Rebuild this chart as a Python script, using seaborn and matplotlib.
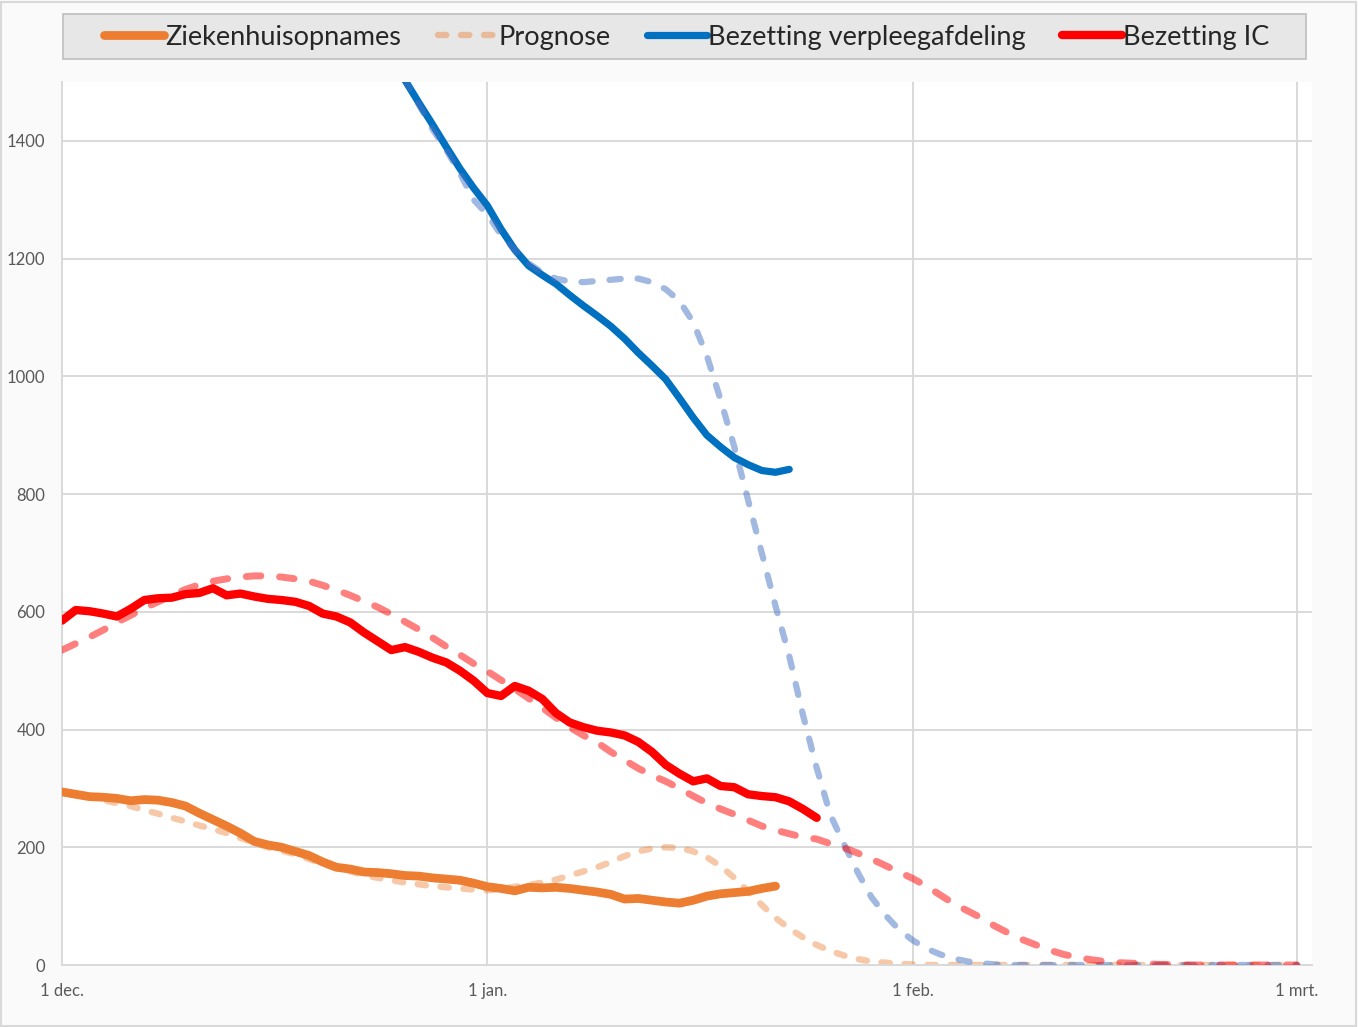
import numpy as np
import pandas as pd
import matplotlib
matplotlib.use("Agg")
import matplotlib.pyplot as plt
from matplotlib.patches import Rectangle
import seaborn as sns

# ---------------- data (day 0 = 1 dec.) ----------------
tick_days = [0, 31, 62, 90]
tick_labels = ["1 dec.", "1 jan.", "1 feb.", "1 mrt."]
y_ticks = [0, 200, 400, 600, 800, 1000, 1200, 1400]

# Ziekenhuisopnames (days 0..52)
opnames = [294, 290, 286, 285, 283, 279, 281, 280, 276, 270,
           258, 247, 236, 224, 210, 204, 200, 193, 186, 175,
           166, 163, 158, 157, 155, 152, 151, 148, 146, 144,
           139, 133, 130, 126, 132, 131, 132, 130, 127, 124,
           120, 112, 113, 110, 107, 105, 110, 117, 121, 123,
           125, 130, 134]
opnames_start = 0

# Prognose ziekenhuisopnames (days 0..90)
prog_opnames = [294, 290, 285, 280, 275, 270, 263, 257, 250, 244,
                237, 231, 224, 216, 208, 200, 194, 188, 180, 172,
                165, 159, 153, 148, 144, 140, 137, 134, 132, 130,
                128, 127, 129, 133, 136, 140, 145, 152, 159, 166,
                175, 185, 193, 198, 200, 199, 193, 183, 168, 148,
                125, 102, 80, 62, 47, 34, 24, 16, 10, 6,
                4, 2, 1] + [0] * 28
prog_opnames_start = 0

# Bezetting verpleegafdeling (days 24..53)
verpleeg = [1548, 1503, 1465, 1428, 1390, 1353, 1320, 1290, 1250, 1215,
            1188, 1172, 1157, 1138, 1120, 1103, 1085, 1064, 1040, 1018,
            995, 963, 930, 900, 880, 862, 850, 840, 837, 842]
verpleeg_start = 24

# Prognose verpleegafdeling (days 24..90)
prog_verpleeg = [1548, 1503, 1462, 1420, 1385, 1345, 1300, 1275, 1240, 1215,
                 1192, 1176, 1166, 1161, 1160, 1162, 1164, 1166, 1166, 1160,
                 1148, 1128, 1092, 1035, 960, 880, 790, 700, 610, 525,
                 425, 335, 255, 205, 157, 115, 85, 60, 42, 28,
                 18, 11, 6, 3, 1] + [0] * 22
prog_verpleeg_start = 24

# Bezetting IC (days 0..55)
ic = [585, 603, 601, 597, 592, 605, 620, 623, 624, 630,
      632, 640, 628, 631, 626, 622, 620, 617, 610, 597,
      592, 582, 565, 550, 535, 540, 532, 522, 514, 500,
      483, 462, 457, 474, 466, 452, 428, 412, 404, 398,
      395, 390, 379, 362, 340, 325, 312, 317, 304, 302,
      290, 287, 285, 278, 265, 250]
ic_start = 0

# Prognose IC (days 0..90)
prog_ic = [535, 546, 557, 569, 582, 594, 606, 617, 628, 638,
           646, 652, 656, 659, 661, 661, 659, 656, 652, 645,
           637, 628, 618, 608, 596, 583, 570, 556, 541, 527,
           512, 499, 484, 469, 453, 437, 420, 404, 390, 378,
           362, 348, 334, 322, 312, 300, 287, 275, 265, 256,
           246, 236, 229, 223, 217, 214, 206, 199, 190, 180,
           169, 158, 147, 134, 119, 104, 92, 80, 66, 54,
           43, 34, 25, 18, 13, 9, 6, 4, 3, 2,
           1, 1] + [0] * 9
prog_ic_start = 0


def frame(vals, start):
    return pd.DataFrame({"day": np.arange(start, start + len(vals)), "value": vals})


# ---------------- figure ----------------
sns.set_theme(style="white")
plt.rcParams["font.family"] = ["Lato", "DejaVu Sans"]

W, H = 1358, 1027
fig = plt.figure(figsize=(W / 100, H / 100), dpi=100, facecolor="#fafafa")
ax = fig.add_axes([62 / W, 1 - 965 / H, 1250 / W, 883 / H])
ax.set_facecolor("white")

grid_c = "#d9d9d9"
for yv in y_ticks[1:]:
    ax.axhline(yv, color=grid_c, lw=1.4, zorder=0)
for d in tick_days[1:]:
    ax.axvline(d, color=grid_c, lw=1.4, zorder=0)

orange = "#ED7D31"
blue = "#0070C0"
blue_p = "#4472C4"
red = "#FF0000"

sns.lineplot(data=frame(prog_opnames, prog_opnames_start), x="day", y="value", ax=ax,
             color=orange, alpha=0.42, lw=4.6, linestyle=(0, (1.3, 2.3)),
             dash_capstyle="round", legend=False, label="Prognose", zorder=2)
sns.lineplot(data=frame(opnames, opnames_start), x="day", y="value", ax=ax,
             color=orange, lw=6.3, solid_capstyle="round", solid_joinstyle="round",
             legend=False, label="Ziekenhuisopnames", zorder=3)
sns.lineplot(data=frame(verpleeg, verpleeg_start), x="day", y="value", ax=ax,
             color=blue, lw=5.2, solid_capstyle="round", solid_joinstyle="round",
             legend=False, label="Bezetting verpleegafdeling", zorder=3)
sns.lineplot(data=frame(prog_verpleeg, prog_verpleeg_start), x="day", y="value", ax=ax,
             color=blue_p, alpha=0.5, lw=4.5, linestyle=(0, (1.8, 2.7)),
             dash_capstyle="round", legend=False, zorder=4)
sns.lineplot(data=frame(ic, ic_start), x="day", y="value", ax=ax,
             color=red, lw=6.0, solid_capstyle="round", solid_joinstyle="round",
             legend=False, label="Bezetting IC", zorder=3)
sns.lineplot(data=frame(prog_ic, prog_ic_start), x="day", y="value", ax=ax,
             color=red, alpha=0.5, lw=5.0, linestyle=(0, (2.1, 2.7)),
             dash_capstyle="round", legend=False, zorder=4)

ax.set_xlim(0, 91.1)
ax.set_ylim(0, 1500)
ax.set_xticks(tick_days)
ax.set_xticklabels(tick_labels)
ax.set_yticks(y_ticks)
ax.set_yticklabels([str(v) for v in y_ticks])
ax.set_xlabel("")
ax.set_ylabel("")
ax.tick_params(axis="both", length=0, labelsize=12, labelcolor="#595959")
ax.tick_params(axis="y", pad=12)
ax.tick_params(axis="x", pad=13)
for s in ["top", "right"]:
    ax.spines[s].set_visible(False)
for s in ["left", "bottom"]:
    ax.spines[s].set_color(grid_c)
    ax.spines[s].set_linewidth(1.4)

# legend box
fig.patches.append(Rectangle((63 / W, 1 - 59 / H), 1243 / W, 45 / H,
                             transform=fig.transFigure, facecolor="#e7e7e7",
                             edgecolor="#bfbfbf", lw=1.2, zorder=0))
# figure border
fig.patches.append(Rectangle((1 / W, 1 / H), (W - 3) / W, (H - 3) / H,
                             transform=fig.transFigure, facecolor="none",
                             edgecolor="#d9d9d9", lw=1.5, zorder=0))

handles, labels = ax.get_legend_handles_labels()
order = ["Ziekenhuisopnames", "Prognose", "Bezetting verpleegafdeling", "Bezetting IC"]
hmap = dict(zip(labels, handles))
leg = fig.legend([hmap[k] for k in order], order, loc="center",
                 bbox_to_anchor=(687 / W, 1 - 37 / H), ncol=4, frameon=False,
                 fontsize=19.5, handlelength=2.2, handletextpad=0.05,
                 columnspacing=1.35)

fig.savefig("out.png", dpi=100, facecolor=fig.get_facecolor())
